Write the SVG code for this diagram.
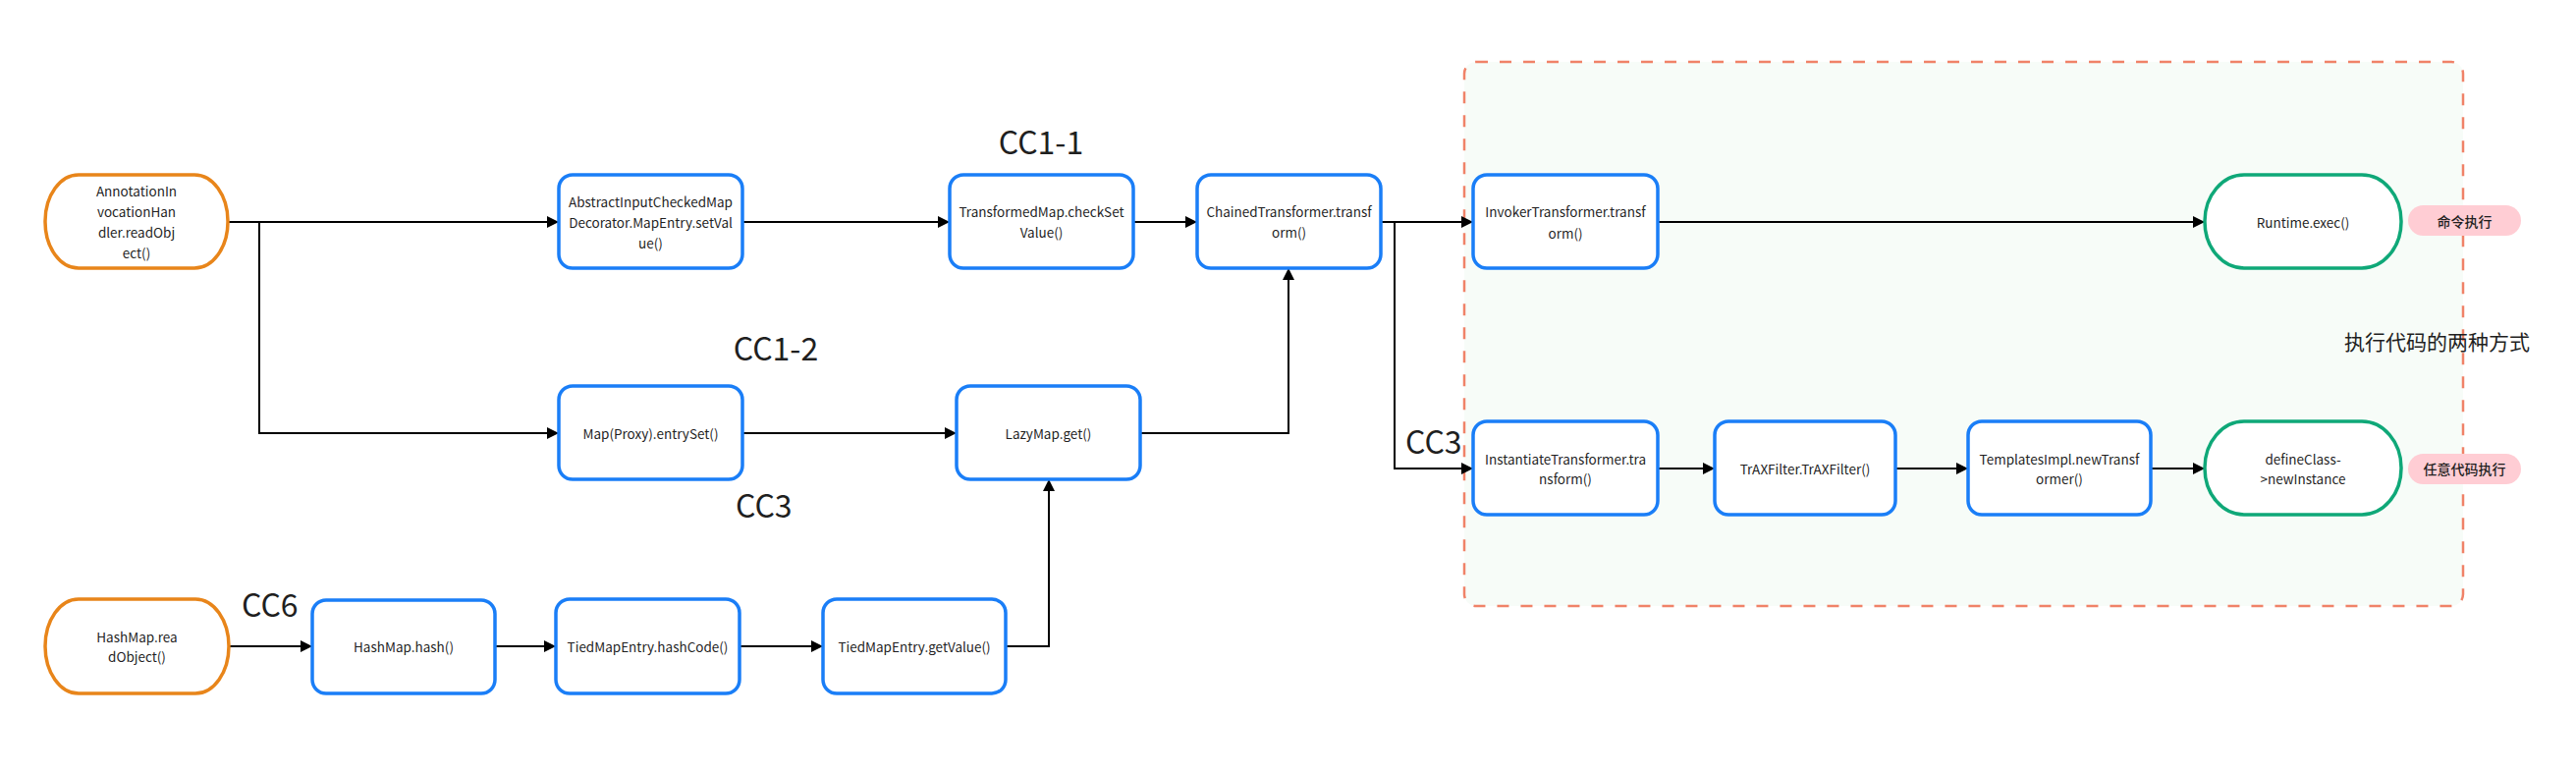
<svg xmlns="http://www.w3.org/2000/svg" width="2623" height="786" viewBox="0 0 2623 786">
<style>
text{font-family:"Noto Sans CJK SC","Noto Sans",sans-serif;fill:#1f1f1f}
.t{font-size:13.5px;text-anchor:middle;dominant-baseline:central}
.b{font-size:14px;text-anchor:middle;dominant-baseline:central;font-weight:500}
.cc{font-size:32px}
.blue{fill:#fff;stroke:#1a7ef7;stroke-width:3.5}
.orange{fill:#fff;stroke:#e8851a;stroke-width:3.5}
.green{fill:#fff;stroke:#0fa878;stroke-width:3.5}
.badge{fill:#ffcdd4}
.c{fill:none;stroke:#000;stroke-width:2;marker-end:url(#ah)}
</style>
<defs>
<marker id="ah" markerUnits="userSpaceOnUse" markerWidth="12" markerHeight="12" refX="12" refY="6" orient="auto">
<path d="M0,0 L12,6 L0,12 z" fill="#000"/>
</marker>
</defs>
<rect width="2623" height="786" fill="#fff"/>
<g id="container">
<rect x="1491" y="63" width="1017" height="554" rx="12" fill="#f7fcf8" stroke="#f08268" stroke-width="2.5" stroke-dasharray="12 12"/>
<text x="2387" y="347" font-size="21" dominant-baseline="central">执行代码的两种方式</text>
</g>
<g id="labels">
<text class="cc" x="1060" y="157" text-anchor="middle">CC1-1</text>
<text class="cc" x="790" y="367" text-anchor="middle">CC1-2</text>
<text class="cc" x="749" y="527">CC3</text>
<text class="cc" x="1431" y="462">CC3</text>
<text class="cc" x="246" y="628">CC6</text>
</g>
<g id="connectors">
<path class="c" d="M232,226 H569"/>
<path class="c" d="M264,226 V441 H569"/>
<path class="c" d="M756,226 H967"/>
<path class="c" d="M1154,226 H1219"/>
<path class="c" d="M1406,226 H1500"/>
<path class="c" d="M1420,226 V477 H1500"/>
<path class="c" d="M756,441 H974"/>
<path class="c" d="M1161,441 H1312 V273"/>
<path class="c" d="M1688,226 H2245"/>
<path class="c" d="M1688,477 H1746"/>
<path class="c" d="M1930,477 H2004"/>
<path class="c" d="M2190,477 H2245"/>
<path class="c" d="M233,658 H318"/>
<path class="c" d="M504,658 H566"/>
<path class="c" d="M753,658 H838"/>
<path class="c" d="M1024,658 H1068 V488"/>
</g>
<g id="n_annot">
<rect class="orange" x="46" y="178" width="186" height="95" rx="34" ry="47"/>
<text class="t" x="139" y="194">AnnotationIn</text>
<text class="t" x="139" y="215">vocationHan</text>
<text class="t" x="139" y="236">dler.readObj</text>
<text class="t" x="139" y="257">ect()</text>
</g>
<g id="n_abstract">
<rect class="blue" x="569" y="178" width="187" height="95" rx="14"/>
<text class="t" x="662.5" y="205">AbstractInputCheckedMap</text>
<text class="t" x="662.5" y="226">Decorator.MapEntry.setVal</text>
<text class="t" x="662.5" y="247">ue()</text>
</g>
<g id="n_map">
<rect class="blue" x="569" y="393" width="187" height="95" rx="14"/>
<text class="t" x="662.5" y="441">Map(Proxy).entrySet()</text>
</g>
<g id="n_transformed">
<rect class="blue" x="967" y="178" width="187" height="95" rx="14"/>
<text class="t" x="1060.5" y="215">TransformedMap.checkSet</text>
<text class="t" x="1060.5" y="236">Value()</text>
</g>
<g id="n_chained">
<rect class="blue" x="1219" y="178" width="187" height="95" rx="14"/>
<text class="t" x="1312.5" y="215">ChainedTransformer.transf</text>
<text class="t" x="1312.5" y="236">orm()</text>
</g>
<g id="n_lazy">
<rect class="blue" x="974" y="393" width="187" height="95" rx="14"/>
<text class="t" x="1067.5" y="441">LazyMap.get()</text>
</g>
<g id="n_invoker">
<rect class="blue" x="1500" y="178" width="188" height="95" rx="14"/>
<text class="t" x="1594" y="215">InvokerTransformer.transf</text>
<text class="t" x="1594" y="237">orm()</text>
</g>
<g id="n_runtime">
<rect class="green" x="2245" y="178" width="200" height="95" rx="40" ry="47"/>
<text class="t" x="2345" y="226">Runtime.exec()</text>
</g>
<g id="badge_cmd">
<rect class="badge" x="2452" y="209" width="115" height="31" rx="15.5"/>
<text class="b" x="2509.5" y="225">命令执行</text>
</g>
<g id="n_inst">
<rect class="blue" x="1500" y="429" width="188" height="95" rx="14"/>
<text class="t" x="1594" y="467">InstantiateTransformer.tra</text>
<text class="t" x="1594" y="487">nsform()</text>
</g>
<g id="n_trax">
<rect class="blue" x="1746" y="429" width="184" height="95" rx="14"/>
<text class="t" x="1838" y="477">TrAXFilter.TrAXFilter()</text>
</g>
<g id="n_templates">
<rect class="blue" x="2004" y="429" width="186" height="95" rx="14"/>
<text class="t" x="2097" y="467">TemplatesImpl.newTransf</text>
<text class="t" x="2097" y="487">ormer()</text>
</g>
<g id="n_define">
<rect class="green" x="2245" y="429" width="200" height="95" rx="40" ry="47"/>
<text class="t" x="2345" y="467">defineClass-</text>
<text class="t" x="2345" y="487">&gt;newInstance</text>
</g>
<g id="badge_any">
<rect class="badge" x="2452" y="462" width="115" height="31" rx="15.5"/>
<text class="b" x="2509.5" y="477">任意代码执行</text>
</g>
<g id="n_hashread">
<rect class="orange" x="46" y="610" width="187" height="96" rx="34" ry="48"/>
<text class="t" x="139.5" y="648">HashMap.rea</text>
<text class="t" x="139.5" y="668">dObject()</text>
</g>
<g id="n_hash">
<rect class="blue" x="318" y="611" width="186" height="95" rx="14"/>
<text class="t" x="411" y="658">HashMap.hash()</text>
</g>
<g id="n_hashcode">
<rect class="blue" x="566" y="610" width="187" height="96" rx="14"/>
<text class="t" x="659.5" y="658">TiedMapEntry.hashCode()</text>
</g>
<g id="n_getvalue">
<rect class="blue" x="838" y="610" width="186" height="96" rx="14"/>
<text class="t" x="931" y="658">TiedMapEntry.getValue()</text>
</g>
</svg>
